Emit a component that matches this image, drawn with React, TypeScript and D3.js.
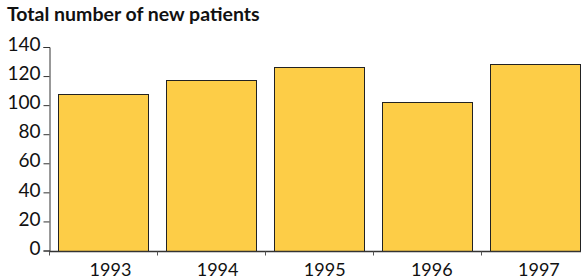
import React, { useRef, useEffect } from 'react';
import * as d3 from 'd3';

const years = ['1993', '1994', '1995', '1996', '1997'];
const patients = [108, 117, 126, 102, 128];
const yTicks = [0, 20, 40, 60, 80, 100, 120, 140];

const width = 581;
const height = 280;
const margin = { top: 47, right: -8, bottom: 30, left: 49 };

const App: React.FC = () => {
    const svgRef = useRef<SVGSVGElement | null>(null);

    useEffect(() => {
        if (!svgRef.current) return;
        const svg = d3.select(svgRef.current);
        svg.selectAll('*').remove();

        const x = d3
            .scaleBand<string>()
            .domain(years)
            .range([margin.left, width - margin.right])
            .paddingInner(1 / 6)
            .paddingOuter(1 / 12);

        const y = d3
            .scaleLinear()
            .domain([0, 140])
            .range([height - margin.bottom + 0.5, margin.top]);

        svg.append('text')
            .attr('x', 7)
            .attr('y', 21)
            .attr('font-family', 'Lato, sans-serif')
            .attr('font-weight', 'bold')
            .attr('font-size', 19.5)
            .attr('fill', '#111')
            .text('Total number of new patients');

        // bars
        svg.selectAll('rect.bar')
            .data(patients)
            .enter()
            .append('rect')
            .attr('class', 'bar')
            .attr('x', (_, i) => Math.round(x(years[i])!) + 0.5)
            .attr('y', (d) => Math.round(y(d)) + 0.5)
            .attr('width', Math.round(x.bandwidth()))
            .attr('height', (d) => Math.round(y(0)) - Math.round(y(d)))
            .attr('fill', '#fdcd47')
            .attr('stroke', '#222')
            .attr('stroke-width', 1);

        // y axis
        const yAxis = svg
            .append('g')
            .attr('transform', `translate(${margin.left + 0.5},0)`)
            .call(d3.axisLeft(y).tickValues(yTicks).tickSize(6).tickPadding(3));
        yAxis.select('.domain').attr('stroke', '#333');
        yAxis.selectAll('line').attr('stroke', '#333');
        yAxis
            .selectAll('text')
            .attr('font-family', 'Lato, sans-serif')
            .attr('font-size', 19)
            .attr('fill', '#111')
            .attr('y', -3)
            .attr('dy', '0.35em');

        // x axis with ticks at band boundaries
        const base = Math.round(y(0)) + 0.5;
        const xAxis = svg.append('g');
        xAxis
            .append('line')
            .attr('x1', margin.left)
            .attr('x2', width)
            .attr('y1', base)
            .attr('y2', base)
            .attr('stroke', '#333')
            .attr('stroke-width', 1.5);
        const step = x.step();
        xAxis
            .selectAll('line.tick')
            .data(years)
            .enter()
            .append('line')
            .attr('class', 'tick')
            .attr('x1', (d) => Math.round(x(d)! - step / 12) + 0.5)
            .attr('x2', (d) => Math.round(x(d)! - step / 12) + 0.5)
            .attr('y1', base)
            .attr('y2', base + 4)
            .attr('stroke', '#555');
        xAxis
            .selectAll('text')
            .data(years)
            .enter()
            .append('text')
            .attr('x', (d, i) => x(d)! + x.bandwidth() / 2 + 7.5 - i * 0.9)
            .attr('y', 276)
            .attr('text-anchor', 'middle')
            .attr('font-family', 'Lato, sans-serif')
            .attr('font-size', 18)
            .attr('fill', '#111')
            .text((d) => d);
    }, []);

    return (
        <div style={{ position: 'absolute', left: 0, top: 0 }}>
            <svg ref={svgRef} width={width} height={height}></svg>
        </div>
    );
};

export default App;
